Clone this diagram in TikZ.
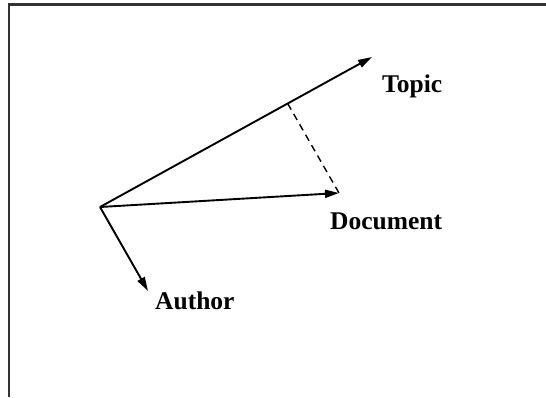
\documentclass[tikz,border=0pt]{standalone}
\usepackage{fontspec}
\setmainfont{Liberation Serif}
\usetikzlibrary{arrows.meta,calc}
\begin{document}
\begin{tikzpicture}[x=1pt,y=-1pt,
  vec/.style={line width=1.9pt,-{Triangle[length=14pt,width=8pt]}},
  lbl/.style={anchor=base west,inner sep=0pt,font=\fontsize{25.5}{30}\selectfont\bfseries},
  frame/.style={line width=2.2pt,black!80}]
\useasboundingbox (0,0) rectangle (546,397);
\draw[frame] (9,397) -- (9,4.5) -- (546,4.5);
\coordinate (O) at (100,207);
\coordinate (T) at (372,57);
\coordinate (D) at (339,193);
\coordinate (A) at (148,291);
\node[lbl] (topic) at (382,92) {Topic};
\node[lbl] (doc) at (330,229) {Document};
\node[lbl] (auth) at (155,309) {Author};
\draw[vec] (O) -- (T);
\draw[vec] (O) -- (D);
\draw[vec] (O) -- (A);
\coordinate (P) at ($(O)!0.69!(T)$);
\draw[line width=1.4pt,dash pattern=on 7pt off 5pt] (P) -- (D);
\end{tikzpicture}
\end{document}
